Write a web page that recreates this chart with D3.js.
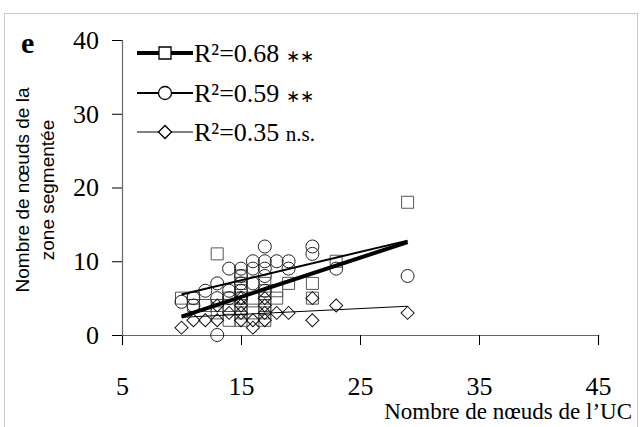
<!DOCTYPE html>
<html><head><meta charset="utf-8">
<script src="https://cdn.jsdelivr.net/npm/d3@7"></script>
<style>body{margin:0;background:#fff}svg{display:block}</style>
</head><body>
<script>
// ---- data ----
const xTicks = [5, 15, 25, 35, 45];
const yTicks = [0, 10, 20, 30, 40];
const squareX = [10,11,11,12,13,13,13,14,14,14,15,15,15,15,15,15,15,16,16,17,17,17,17,17,17,18,18,19,21,21,23,29];
const squareY = [5,5,4,4,11,4,3,2,4,5,2,3,4,5,6,7,8,3,5,2,3,4,5,6,7,5,6,7,7,5,10,18];
const circleX = [10,11,11,12,13,13,13,14,14,14,15,15,15,15,15,16,16,16,17,17,17,17,17,18,19,19,21,21,23,29];
const circleY = [4.5,4,5,6,7,0,5,9,6,5,8,9,7,6,5,10,9,7,12,10,9,8,6,10,10,9,12,11,9,8];
const diamondX = [10,11,12,13,13,14,15,15,15,15,16,16,17,17,17,17,18,19,21,21,23,29];
const diamondY = [1,2,2,2,4,3,2,3,4,5,1,2,2,3,4,5,3,3,5,2,4,3];
// regression lines: [x start, x end, y start, y end]
const fitSquare = [10, 29, 2.5, 12.6];
const fitCircle = [10, 29, 5.5, 12.8];
const fitDiamond = [10, 29, 2.4, 3.9];
const legendLabels = ["R²=0.68 ", "R²=0.59 ", "R²=0.35 "];
const legendSig = ["∗∗", "∗∗", "n.s."];
const panelLabel = "e";
const xTitle = "Nombre de nœuds de l’UC";
const yTitle = ["Nombre de nœuds de la", "zone segmentée"];

const W = 642, H = 427;
const svg = d3.select("body").append("svg").attr("width", W).attr("height", H);
svg.append("rect").attr("x", 4.5).attr("y", 13.5).attr("width", 633).attr("height", 425)
  .attr("fill", "none").attr("stroke", "#c8c8c8");

const x = d3.scaleLinear().domain([5, 45]).range([122, 598]);
const y = d3.scaleLinear().domain([0, 40]).range([335, 40]);

const serif = "'Liberation Serif','Times New Roman',serif";

// axes
const xAxis = svg.append("g").attr("transform", `translate(0,${y(0)})`)
  .call(d3.axisBottom(x).tickValues(xTicks).tickSize(10).tickPadding(32).tickFormat(d3.format("d")));
const yAxis = svg.append("g").attr("transform", `translate(${x(5)},0)`)
  .call(d3.axisLeft(y).tickValues(yTicks).tickSize(10).tickPadding(13).tickFormat(d3.format("d")));
[xAxis, yAxis].forEach(a => {
  a.select(".domain").attr("stroke", "#666").attr("stroke-width", 1.2);
  a.selectAll(".tick line").attr("stroke", "#000").attr("stroke-width", 1);
  a.selectAll(".tick text").attr("font-family", serif).attr("font-size", 26).attr("fill", "#000");
});

// markers
const sq = d3.symbol().type(d3.symbolSquare).size(144);
const ci = d3.symbol().type(d3.symbolCircle).size(133);
const di = d3.symbol().type(d3.symbolSquare).size(85);
const mk = svg.append("g").attr("fill", "none").attr("stroke-width", 1);
mk.selectAll(".s").data(squareX.map((v, i) => [v, squareY[i]])).join("path")
  .attr("d", sq).attr("stroke", "#555").attr("transform", d => `translate(${x(d[0])},${y(d[1])})`);
mk.selectAll(".c").data(circleX.map((v, i) => [v, circleY[i]])).join("path")
  .attr("d", ci).attr("stroke", "#222").attr("transform", d => `translate(${x(d[0])},${y(d[1])})`);
mk.selectAll(".d").data(diamondX.map((v, i) => [v, diamondY[i]])).join("path")
  .attr("d", di).attr("stroke", "#111").attr("transform", d => `translate(${x(d[0])},${y(d[1])}) rotate(45)`);

// regression lines
const fits = [[fitSquare, 4], [fitCircle, 2], [fitDiamond, 1]];
svg.append("g").selectAll("line").data(fits).join("line")
  .attr("x1", d => x(d[0][0])).attr("x2", d => x(d[0][1]))
  .attr("y1", d => y(d[0][2])).attr("y2", d => y(d[0][3]))
  .attr("stroke", "#000").attr("stroke-width", d => d[1]);

// legend
const legY = [53, 93, 132];
const legSyms = [sq, ci, di];
const lg = svg.append("g");
legendLabels.forEach((t, i) => {
  const g = lg.append("g").attr("transform", `translate(0,${legY[i]})`);
  g.append("line").attr("x1", 137).attr("x2", 193).attr("y1", 0).attr("y2", 0)
    .attr("stroke", "#000").attr("stroke-width", fits[i][1]);
  g.append("path").attr("d", legSyms[i]).attr("fill", "#fff").attr("stroke", "#000")
    .attr("stroke-width", 1.3).attr("transform", `translate(165,0)${i === 2 ? " rotate(45)" : ""}`);
  const tx = g.append("text").attr("x", 194).attr("y", 9).attr("font-family", serif)
    .attr("font-size", 26).attr("fill", "#000");
  tx.append("tspan").text(t);
  tx.append("tspan").attr("font-size", i < 2 ? 17 : 21).text(legendSig[i]);
});

// panel label
svg.append("text").attr("x", 21).attr("y", 53).attr("font-family", serif)
  .attr("font-weight", "bold").attr("font-size", 30).text(panelLabel);

// axis titles
svg.append("text").attr("x", 632).attr("y", 419).attr("text-anchor", "end")
  .attr("font-family", serif).attr("font-size", 23).text(xTitle);
const yt = svg.append("text").attr("transform", "translate(0,190) rotate(-90)")
  .attr("text-anchor", "middle").attr("font-family", "'Liberation Sans',Arial,sans-serif")
  .attr("font-size", 19);
yt.append("tspan").attr("x", 0).attr("y", 29).text(yTitle[0]);
yt.append("tspan").attr("x", 0).attr("y", 54).text(yTitle[1]);
</script>
</body></html>
